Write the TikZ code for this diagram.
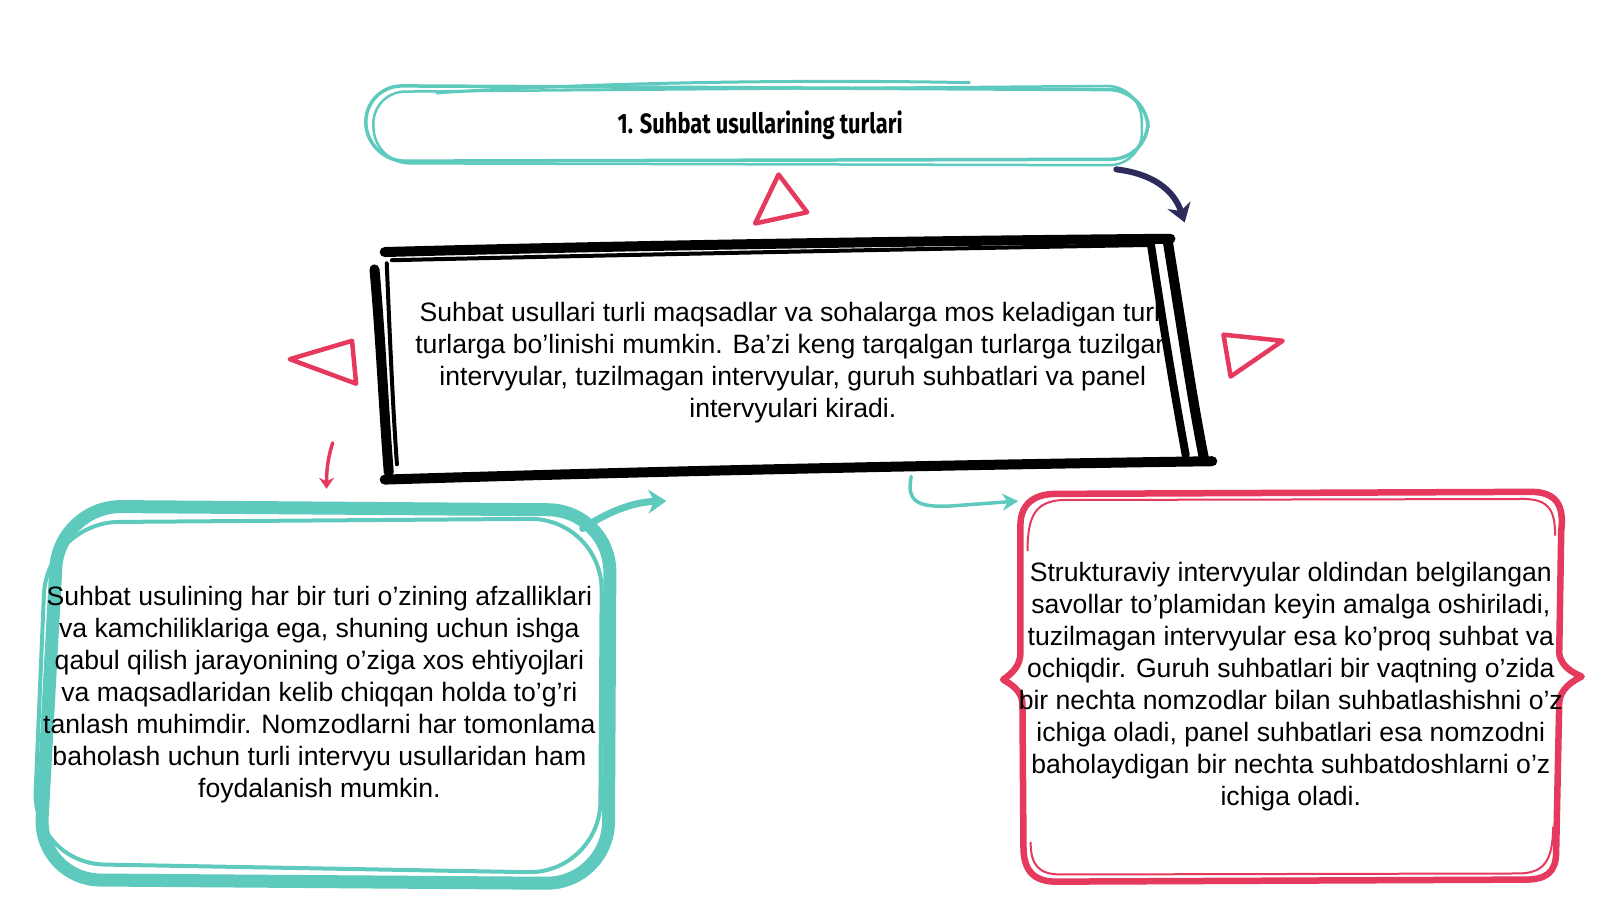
\documentclass[tikz,border=0pt]{standalone}
\usepackage{fontspec}
\setmainfont{Liberation Sans}
\newfontfamily\titlefont[FakeStretch=0.78]{Fira Sans}
\usetikzlibrary{arrows.meta}
\definecolor{tealc}{HTML}{5DCABD}
\definecolor{redc}{HTML}{E5395E}
\definecolor{navyc}{HTML}{2D2B5C}
\tikzset{
  txt/.style={align=center, inner sep=0pt, font=\fontsize{26.6}{32}\selectfont},
  tri/.style={draw=redc, line width=4.5pt, line join=round, line cap=round},
  blk/.style={draw=black, line cap=round, line join=round},
  arr/.style={line cap=round, line width=5pt},
}
\begin{document}
\begin{tikzpicture}[x=1.0204pt,y=-1.0204pt]
\useasboundingbox (0,0) rectangle (1568,882);

% ---------- title box ----------
\draw[tealc, line width=3.5pt, rounded corners=38pt] (357,84) -- (1124,88) -- (1126,156) -- (360,158) -- cycle;
\draw[tealc, line width=2.5pt, rounded corners=34pt] (364,90) -- (1118,84) -- (1120,162) -- (368,160) -- cycle;
\draw[tealc, line width=3pt, line cap=round] (428,91) .. controls (600,80) and (800,78) .. (950,81);
\node[font=\titlefont\bfseries\fontsize{28}{30}\selectfont] (title) at (745,123) {1. Suhbat usullarining turlari};

% ---------- triangles ----------
\draw[tri] (763,171) -- (791,208) -- (740,219) -- cycle;
\draw[tri] (284,352) -- (345,334) -- (349,376) -- cycle;
\draw[tri] (1199,328) -- (1257,334) -- (1206,369) -- cycle;

% ---------- central box ----------
\begin{scope}
\clip (386,252) -- (1127,242) -- (1160,446) -- (392,460) -- cycle;
\node[txt] (mid) at (777,355) {Suhbat usullari turli maqsadlar va sohalarga mos keladigan turli\\turlarga bo'linishi mumkin. Ba'zi keng tarqalgan turlarga tuzilgan\\intervyular, tuzilmagan intervyular, guruh suhbatlari va panel\\intervyulari kiradi.};
\end{scope}
\draw[blk, line width=10pt] (377,247) .. controls (600,241) and (900,236) .. (1147,234);
\draw[blk, line width=4pt] (384,255) .. controls (600,250) and (900,244) .. (1130,240);
\draw[blk, line width=10pt] (367,264) .. controls (373,330) and (376,400) .. (381,463);
\draw[blk, line width=4pt] (379,258) .. controls (382,330) and (385,400) .. (389,455);
\draw[blk, line width=10pt] (377,470) .. controls (600,463) and (900,456) .. (1188,452);
\draw[blk, line width=8pt] (1128,240) .. controls (1140,320) and (1150,380) .. (1162,446);
\draw[blk, line width=10pt] (1144,234) .. controls (1158,320) and (1168,390) .. (1180,450);

% ---------- left box ----------
\draw[tealc, line width=13pt, rounded corners=62pt, line join=round] (58,496) -- (598,500) -- (596,866) -- (38,862) -- cycle;
\draw[tealc, line width=4pt, rounded corners=72pt] (46,512) -- (590,508) -- (588,856) -- (32,846) -- cycle;
\node[txt] (left) at (313,681) {Suhbat usulining har bir turi o'zining afzalliklari\\va kamchiliklariga ega, shuning uchun ishga\\qabul qilish jarayonining o'ziga xos ehtiyojlari\\va maqsadlaridan kelib chiqqan holda to'g'ri\\tanlash muhimdir. Nomzodlarni har tomonlama\\baholash uchun turli intervyu usullaridan ham\\foydalanish mumkin.};

% ---------- right box ----------
\draw[redc, line width=6.5pt, line join=round] (1035,484) -- (1500,482) .. controls (1525,482) and (1533,495) .. (1530,520) -- (1528,640) .. controls (1530,655) and (1544,660) .. (1550,663) .. controls (1542,667) and (1528,675) .. (1528,690) -- (1525,835) .. controls (1525,855) and (1515,862) .. (1495,862) -- (1035,864) .. controls (1012,864) and (1003,852) .. (1003,830) -- (1002,690) .. controls (1002,677) and (990,670) .. (983,666) .. controls (992,660) and (1000,652) .. (1000,640) -- (1000,515) .. controls (1000,495) and (1012,484) .. (1035,484) -- cycle;
\draw[redc, line width=2pt] (1007,540) .. controls (1007,505) and (1015,492) .. (1040,490) -- (1495,489) .. controls (1518,490) and (1524,500) .. (1524,525);
\draw[redc, line width=2pt] (1522,810) .. controls (1522,845) and (1512,855) .. (1490,856) -- (1040,857) .. controls (1018,857) and (1010,848) .. (1010,825);
\node[txt] (right) at (1265,673) {Strukturaviy intervyular oldindan belgilangan\\savollar to'plamidan keyin amalga oshiriladi,\\tuzilmagan intervyular esa ko'proq suhbat va\\ochiqdir. Guruh suhbatlari bir vaqtning o'zida\\bir nechta nomzodlar bilan suhbatlashishni o'z\\ichiga oladi, panel suhbatlari esa nomzodni\\baholaydigan bir nechta suhbatdoshlarni o'z\\ichiga oladi.};

% ---------- arrows ----------
\coordinate (n1) at (1094,166);
\coordinate (n2) at (1161,218);
\draw[navyc, arr, line width=6pt, -{Stealth[length=18pt,width=24pt]}] (n1) .. controls (1128,170) and (1150,185) .. (n2);

\coordinate (t1) at (571,518);
\coordinate (t2) at (653,491);
\draw[tealc, arr, line width=7pt, -{Stealth[length=18pt,width=24pt]}] (t1) .. controls (595,502) and (620,492) .. (t2);

\coordinate (u1) at (893,467);
\coordinate (u2) at (998,491);
\draw[tealc, arr, line width=3.5pt, -{Stealth[length=16pt,width=17pt]}] (u1) .. controls (888,492) and (900,497) .. (930,496) -- (u2);

\coordinate (r1) at (326,434);
\coordinate (r2) at (320,479);
\draw[redc, arr, line width=3.5pt, -{Stealth[length=11pt,width=15pt]}] (r1) .. controls (321,450) and (320,462) .. (r2);
\end{tikzpicture}
\end{document}
